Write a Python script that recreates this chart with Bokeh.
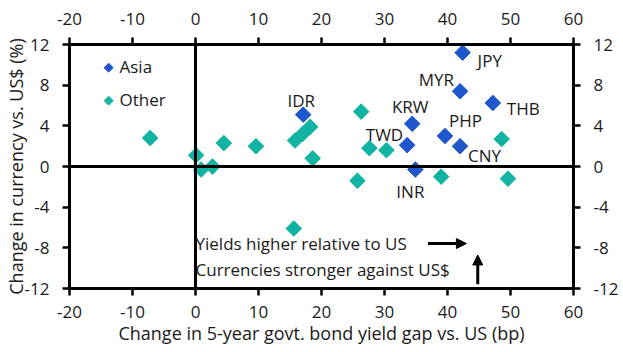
import math
from bokeh.plotting import figure
from bokeh.models import (Range1d, LinearAxis, FixedTicker, Span, Arrow, NormalHead,
                          Label, ColumnDataSource)
from bokeh.embed import file_html
from bokeh.resources import INLINE

# ---- data ----
asia_names = ["JPY", "MYR", "THB", "IDR", "KRW", "PHP", "TWD", "CNY", "INR"]
asia_x = [42.4, 42.0, 47.2, 17.1, 34.4, 39.6, 33.6, 42.0, 34.9]
asia_y = [11.2, 7.4, 6.25, 5.1, 4.2, 3.0, 2.1, 2.0, -0.3]

other_x = [-7.2, 0.1, 0.9, 2.7, 4.5, 9.6, 15.8, 17.0, 18.2, 18.6, 15.6,
           26.3, 27.6, 30.3, 25.7, 39.0, 48.6, 49.6]
other_y = [2.8, 1.1, -0.3, 0.0, 2.3, 2.0, 2.55, 3.2, 3.9, 0.8, -6.1,
           5.4, 1.8, 1.6, -1.4, -1.0, 2.7, -1.2]

x_ticks = [-20, -10, 0, 10, 20, 30, 40, 50, 60]
x_tick_labels = ["-20", "-10", "0", "10", "20", "30", "40", "50", "60"]
y_ticks = [-12, -8, -4, 0, 4, 8, 12]
y_tick_labels = ["-12", "-8", "-4", "0", "4", "8", "12"]

series_names = ["Asia", "Other"]
x_title = "Change in 5-year govt. bond yield gap vs. US (bp)"
y_title = "Change in currency vs. US$ (%)"
note1 = "Yields higher relative to US"
note2 = "Currencies stronger against US$"

# label placement (screen px offsets from the point: dx right, dy up, align)
label_pos = {
    "JPY": (15, -8, "left"),
    "MYR": (-6, 12, "right"),
    "THB": (14, -6, "left"),
    "IDR": (-2, 14, "center"),
    "KRW": (-2, 17, "center"),
    "PHP": (4, 16, "left"),
    "TWD": (-4, 11, "right"),
    "CNY": (8, -9, "left"),
    "INR": (-5, -22, "center"),
}

FONT = "Open Sans"
FS = "17px"
BLUE = "#1f56cc"
TEAL = "#11b4a2"
TXT = "#1a1a1a"

p = figure(width=623, height=352, output_backend="svg", toolbar_location=None,
           x_range=Range1d(-20, 60), y_range=Range1d(-12, 12),
           x_axis_type=None, y_axis_type=None,
           min_border_left=66, min_border_right=50, min_border_top=44,
           min_border_bottom=64)
p.background_fill_color = "white"
p.border_fill_color = "white"
p.outline_line_color = None
p.grid.visible = False

x_over = {t: s for t, s in zip(x_ticks, x_tick_labels)}
y_over = {t: s for t, s in zip(y_ticks, y_tick_labels)}
bottom = LinearAxis(ticker=FixedTicker(ticks=x_ticks), axis_label=x_title,
                    major_label_overrides=x_over)
top = LinearAxis(ticker=FixedTicker(ticks=x_ticks), major_label_overrides=x_over)
left = LinearAxis(ticker=FixedTicker(ticks=y_ticks), axis_label=y_title,
                  major_label_overrides=y_over)
right = LinearAxis(ticker=FixedTicker(ticks=y_ticks), major_label_overrides=y_over)
p.add_layout(bottom, "below")
p.add_layout(top, "above")
p.add_layout(left, "left")
p.add_layout(right, "right")

for ax in [bottom, top, left, right]:
    ax.axis_line_width = 3
    ax.axis_line_color = "black"
    ax.major_tick_line_width = 2.5
    ax.major_tick_line_color = "black"
    ax.major_tick_out = 7
    ax.major_tick_in = 0
    ax.minor_tick_line_color = None
    ax.major_label_text_font = FONT
    ax.major_label_text_font_size = FS
    ax.major_label_text_color = TXT
    ax.axis_label_text_font = FONT
    ax.axis_label_text_font_size = "18px"
    ax.axis_label_text_font_style = "normal"
    ax.axis_label_text_color = TXT

bottom.major_label_standoff = 10
bottom.axis_label_standoff = 0
left.major_label_standoff = 13
left.axis_label_standoff = -6
top.major_label_standoff = 13
right.major_label_standoff = 13

# zero lines
p.add_layout(Span(location=0, dimension="height", line_color="black", line_width=3))
p.add_layout(Span(location=0, dimension="width", line_color="black", line_width=3))

src_o = ColumnDataSource(dict(x=other_x, y=other_y))
src_a = ColumnDataSource(dict(x=asia_x, y=asia_y, name=asia_names))
p.scatter("x", "y", source=src_o, marker="square", size=11, angle=math.pi / 4,
          fill_color=TEAL, line_color=TEAL, level="underlay")
p.scatter("x", "y", source=src_a, marker="square", size=11, angle=math.pi / 4,
          fill_color=BLUE, line_color=BLUE, level="underlay")

for n, xv, yv in zip(asia_names, asia_x, asia_y):
    dx, dy, al = label_pos[n]
    p.add_layout(Label(x=xv, y=yv, text=n, x_offset=dx, y_offset=dy,
                       text_align=al, text_baseline="middle",
                       text_font=FONT, text_font_size=FS, text_color=TXT))

# manual legend (diamond keys), placed in screen units relative to the frame
for i, (nm, col) in enumerate(zip(series_names, [BLUE, TEAL])):
    sy = 222 - i * 33
    p.add_layout(Label(x=39, y=sy, x_units="screen", y_units="screen", text="\u25c6",
                       text_align="center", text_baseline="middle",
                       text_font="DejaVu Sans", text_font_size="13px", text_color=col))
    p.add_layout(Label(x=50, y=sy, x_units="screen", y_units="screen", text=nm,
                       text_align="left", text_baseline="middle",
                       text_font=FONT, text_font_size=FS, text_color=TXT))

p.add_layout(Label(x=0.0, y=-7.58, text=note1, text_align="left", text_baseline="middle",
                   text_font=FONT, text_font_size=FS, text_color=TXT))
p.add_layout(Label(x=0.0, y=-10.1, text=note2, text_align="left", text_baseline="middle",
                   text_font=FONT, text_font_size=FS, text_color=TXT))
p.add_layout(Arrow(x_start=36.9, y_start=-7.58, x_end=43.0, y_end=-7.58,
                   line_width=3, line_color="black",
                   end=NormalHead(size=10, fill_color="black", line_color="black")))
p.add_layout(Arrow(x_start=44.8, y_start=-11.58, x_end=44.8, y_end=-8.7,
                   line_width=3, line_color="black",
                   end=NormalHead(size=10, fill_color="black", line_color="black")))

open("out.html", "w").write(file_html(p, INLINE))
